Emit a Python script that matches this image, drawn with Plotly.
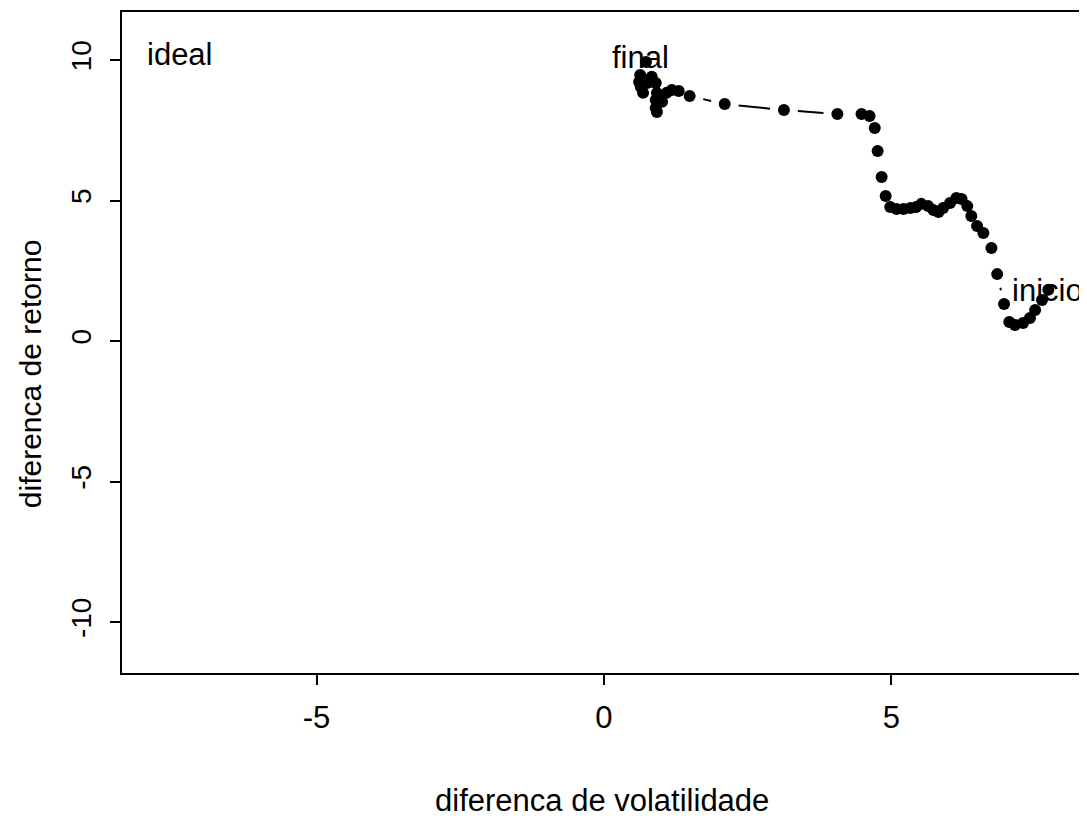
import plotly.graph_objects as go
import math

# data: path from "inicio" to "final"
vol_diff = [7.73, 7.62, 7.50, 7.41, 7.29, 7.15, 7.05, 6.96, 6.84, 6.74,
            6.60, 6.49, 6.39, 6.32, 6.22, 6.13, 6.02, 5.90, 5.82, 5.73,
            5.64, 5.52, 5.43, 5.33, 5.21, 5.09, 4.98, 4.90, 4.83, 4.76,
            4.71, 4.62, 4.48, 4.06, 3.13, 2.10, 1.49, 1.30, 1.18, 1.09,
            1.01, 0.92, 0.90, 0.90, 0.92, 0.90, 0.83, 0.75, 0.68, 0.64,
            0.61, 0.63, 0.73]
ret_diff = [1.82, 1.46, 1.10, 0.82, 0.64, 0.57, 0.68, 1.32, 2.38, 3.31,
            3.84, 4.09, 4.45, 4.80, 5.05, 5.09, 4.91, 4.73, 4.59, 4.66,
            4.80, 4.88, 4.77, 4.73, 4.70, 4.70, 4.77, 5.16, 5.84, 6.76,
            7.58, 8.01, 8.08, 8.08, 8.22, 8.43, 8.72, 8.90, 8.93, 8.83,
            8.51, 8.15, 8.29, 8.58, 8.83, 9.18, 9.40, 9.18, 8.83, 9.04,
            9.22, 9.47, 9.93]

label_text = ["ideal", "final", "inicio"]
label_x = [-7.38, 0.64, 7.71]
label_y = [10.18, 10.08, 1.78]

x_ticks = [-5, 0, 5]
y_ticks = [-10, -5, 0, 5, 10]

# page has an 8px body margin; compensate so the plot box lands at (122, 12)
W, H = 1079, 828
ML, MR, MT, MB = 114, 2, 4, 163
xr = [-8.385, 8.333]
yr = [-11.815, 11.708]
pw, ph = W - ML - MR, H - MT - MB
sx = pw / (xr[1] - xr[0])
sy = ph / (yr[1] - yr[0])

# type="b" style: line segments with gaps around points
gap = 14.0
lx, ly = [], []
for i in range(len(vol_diff) - 1):
    x1, y1, x2, y2 = vol_diff[i], ret_diff[i], vol_diff[i + 1], ret_diff[i + 1]
    dxp, dyp = (x2 - x1) * sx, (y2 - y1) * sy
    d = math.hypot(dxp, dyp)
    if d > 2 * gap:
        f = gap / d
        lx += [x1 + (x2 - x1) * f, x2 - (x2 - x1) * f, None]
        ly += [y1 + (y2 - y1) * f, y2 - (y2 - y1) * f, None]

FONT = "Liberation Sans, Arial, sans-serif"
HS = 31   # horizontal text size
VT = 28   # rotated tick label size
VS = 30   # rotated title size

fig = go.Figure()
fig.add_trace(go.Scatter(x=lx, y=ly, mode="lines",
                         line=dict(color="black", width=2),
                         hoverinfo="skip", showlegend=False))
fig.add_trace(go.Scatter(x=vol_diff, y=ret_diff, mode="markers",
                         marker=dict(color="black", size=12),
                         showlegend=False))
for t, x, y in zip(label_text, label_x, label_y):
    fig.add_annotation(x=x, y=y, text=t, showarrow=False,
                       xanchor="center", yanchor="middle",
                       font=dict(family=FONT, size=HS, color="black"))

fig.add_annotation(xref="paper", yref="paper", x=(603 - 122) / pw,
                   y=(673 - 800) / ph, text="diferenca de volatilidade",
                   showarrow=False, xanchor="center", yanchor="middle",
                   font=dict(family=FONT, size=HS, color="black"))
fig.add_annotation(xref="paper", yref="paper", x=(30 - 122) / pw,
                   y=(673 - 374) / ph,
                   text="diferenca de retorno", textangle=-90,
                   showarrow=False, xanchor="center", yanchor="middle",
                   font=dict(family=FONT, size=VS, color="black"))

axis_common = dict(showline=True, mirror=True, linecolor="black", linewidth=2,
                   ticks="outside", ticklen=10, tickwidth=1.5, tickcolor="black",
                   showgrid=False, zeroline=False)
fig.update_xaxes(range=xr, tickvals=x_ticks, ticktext=[str(v) for v in x_ticks],
                 ticklabelstandoff=6,
                 tickfont=dict(family=FONT, size=HS, color="black"), **axis_common)
fig.update_yaxes(range=yr, tickvals=y_ticks, ticktext=[str(v) for v in y_ticks],
                 tickangle=-90, ticklabelstandoff=8,
                 tickfont=dict(family=FONT, size=VT, color="black"), **axis_common)
fig.update_layout(width=W, height=H, autosize=False,
                  margin=dict(l=ML, r=MR, t=MT, b=MB),
                  plot_bgcolor="white", paper_bgcolor="white",
                  font=dict(family=FONT, color="black"))
fig.write_html("out.html")
